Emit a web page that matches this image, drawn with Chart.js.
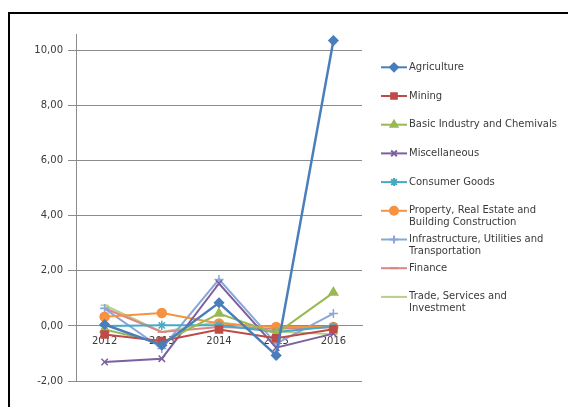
<!DOCTYPE html>
<html>
<head>
<meta charset="utf-8">
<script src="https://cdn.jsdelivr.net/npm/chart.js@4"></script>
<style>
  html, body { margin: 0; padding: 0; background: #fff; }
  #wrap { position: relative; width: 568px; height: 407px; overflow: hidden; }
  #frame { position: absolute; left: 8px; top: 12px; width: 600px; height: 500px; border: 2px solid #000; }
  #chart { position: absolute; left: 0; top: 0; }
</style>
</head>
<body>
<div id="wrap">
  <div id="frame"></div>
  <canvas id="chart" width="568" height="407"></canvas>
</div>
<script>
// years on the x axis
const years = ['2012', '2013', '2014', '2015', '2016'];

// sector values
const agriculture    = [0.05, -0.70, 0.84, -1.07, 10.36];
const mining         = [-0.31, -0.55, -0.13, -0.45, -0.12];
const basicIndustry  = [-0.13, -0.62, 0.45, -0.28, 1.21];
const miscellaneous  = [-1.31, -1.19, 1.54, -0.79, -0.28];
const consumerGoods  = [0.00, 0.02, 0.02, -0.22, -0.02];
const property       = [0.33, 0.47, 0.09, -0.04, -0.04];
const infrastructure = [0.63, -0.82, 1.69, -0.64, 0.45];
const finance        = [0.64, -0.22, -0.04, -0.10, -0.05];
const trade          = [0.75, -0.22, 0.15, -0.20, -0.30];

const yTicks = [-2, 0, 2, 4, 6, 8, 10];

const font = '"DejaVu Sans", Verdana, sans-serif';

function series(label, data, color, pointStyle, radius, width) {
    return {
        label: label,
        data: data,
        borderColor: color,
        backgroundColor: color,
        borderWidth: width || 2,
        pointStyle: pointStyle,
        pointRadius: radius,
        pointBorderWidth: 1.5,
        pointHoverRadius: radius,
        tension: 0
    };
}

const datasets = [
    series('Agriculture', agriculture, '#4a7ebb', 'rectRot', 4.5, 2.5),
    series('Mining', mining, '#be4b48', 'rect', 5),
    series('Basic Industry and Chemivals', basicIndustry, '#98b954', 'triangle', 5),
    series('Miscellaneous', miscellaneous, '#7d60a0', 'crossRot', 4.5),
    series('Consumer Goods', consumerGoods, '#46aac5', 'star', 4.5),
    series('Property, Real Estate and Building Construction', property, '#f69240', 'circle', 4.5),
    series('Infrastructure, Utilities and Transportation', infrastructure, '#8aa6d8', 'cross', 4.5),
    series('Finance', finance, '#dc8683', 'line', 4),
    series('Trade, Services and Investment', trade, '#b9d08c', 'line', 4)
];

// legend on the right, drawn by hand so long names can wrap like the original
const sideLegend = {
    id: 'sideLegend',
    afterDraw(chart) {
        const ctx = chart.ctx;
        ctx.save();
        ctx.font = '10px ' + font;
        ctx.textBaseline = 'middle';
        ctx.textAlign = 'left';
        chart.data.datasets.forEach((ds, i) => {
            const y = 67.3 + i * 28.7;
            ctx.strokeStyle = ds.borderColor;
            ctx.lineWidth = 2;
            ctx.beginPath();
            ctx.moveTo(381, y);
            ctx.lineTo(407, y);
            ctx.stroke();
            Chart.helpers.drawPoint(ctx, {
                pointStyle: ds.pointStyle,
                radius: Math.min(ds.pointRadius, 4),
                borderWidth: 1.5,
                rotation: 0
            }, 394, y);
            if (ds.pointStyle !== 'line' && ds.pointStyle !== 'cross' && ds.pointStyle !== 'crossRot' && ds.pointStyle !== 'star') {
                ctx.fillStyle = ds.backgroundColor;
                ctx.fill();
            }
            // wrap the name
            const words = ds.label.split(' ');
            const lines = [];
            let cur = '';
            words.forEach(w => {
                const test = cur ? cur + ' ' + w : w;
                if (ctx.measureText(test).width > 152 && cur) {
                    lines.push(cur);
                    cur = w;
                } else {
                    cur = test;
                }
            });
            lines.push(cur);
            ctx.fillStyle = '#3a3a3a';
            lines.forEach((ln, k) => ctx.fillText(ln, 409, y + k * 12));
        });
        ctx.restore();
    }
};

new Chart(document.getElementById('chart'), {
    type: 'line',
    data: { labels: years, datasets: datasets },
    options: {
        responsive: false,
        animation: false,
        layout: { padding: { left: 0, right: 206, top: 34, bottom: 26 } },
        plugins: {
            legend: { display: false },
            tooltip: { enabled: false }
        },
        scales: {
            x: {
                position: { y: 0 },
                offset: true,
                grid: {
                    drawOnChartArea: false,
                    drawTicks: true,
                    tickLength: 4,
                    color: '#8c8c8c'
                },
                border: { color: '#8c8c8c', width: 1 },
                ticks: {
                    color: '#3a3a3a',
                    padding: 5,
                    maxRotation: 0,
                    font: { family: font, size: 10 }
                }
            },
            y: {
                min: -2,
                max: 10.6,
                afterFit(scale) { scale.width = 76; },
                afterBuildTicks(scale) {
                    scale.ticks = yTicks.map(v => ({ value: v }));
                },
                grid: {
                    color: '#8c8c8c',
                    tickLength: 8,
                    lineWidth: 1
                },
                border: { color: '#8c8c8c', width: 1 },
                ticks: {
                    color: '#3a3a3a',
                    padding: 5,
                    font: { family: font, size: 10 },
                    callback: v => v.toFixed(2).replace('.', ',')
                }
            }
        }
    },
    plugins: [sideLegend]
});
</script>
</body>
</html>
